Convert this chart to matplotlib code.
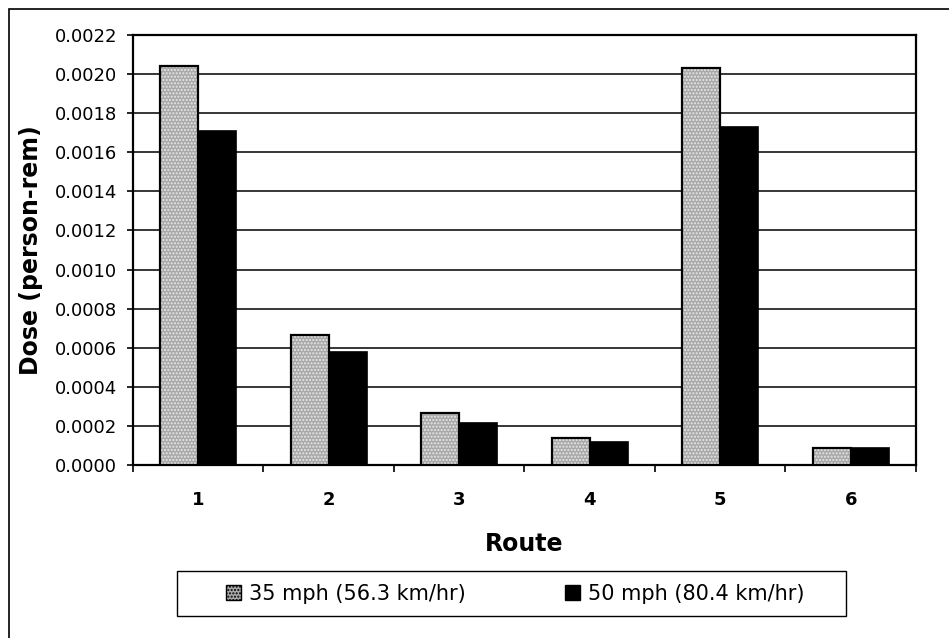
import numpy as np
import matplotlib.pyplot as plt
from matplotlib.patches import Rectangle

# values
routes = ['1', '2', '3', '4', '5', '6']
dose_35 = [0.00204, 0.000665, 0.000264, 0.000136, 0.002033, 0.000085]
dose_50 = [0.00171, 0.000578, 0.000213, 0.000116, 0.00173, 0.000085]
labels = ['35 mph (56.3 km/hr)', '50 mph (80.4 km/hr)']

plt.rcParams['font.family'] = ['DejaVu Sans']

fig = plt.figure(figsize=(9.49, 6.38), dpi=100)
ax = fig.add_axes([0.1401, 0.2712, 0.8251, 0.6739])

x = np.arange(len(routes))
w = 0.29

# stippled grey bars: texture layer, then outline layer
ax.bar(x - w/2, dose_35, w, color='#a9a9a9', edgecolor='#e8e8e8', hatch='.....',
       linewidth=0, zorder=3)
ax.bar(x - w/2, dose_35, w, fill=False, edgecolor='black', linewidth=1.6, zorder=4)
ax.bar(x + w/2, dose_50, w, color='black', edgecolor='black', linewidth=1.2, zorder=3)

ax.set_xlim(-0.5, len(routes) - 0.5)
ax.set_ylim(0, 0.0022)
ticks = np.arange(0, 0.00221, 0.0002)
ax.set_yticks(ticks)
ax.set_yticklabels(['%.4f' % v for v in ticks], fontsize=13)
ax.yaxis.grid(True, color='black', linewidth=1.1, zorder=0)
ax.set_axisbelow(True)

ax.set_xticks(x)
ax.set_xticklabels(routes, fontsize=13, fontweight='bold')
ax.set_xticks(np.arange(-0.5, len(routes)), minor=True)
ax.tick_params(axis='x', which='major', length=0, pad=19)
ax.tick_params(axis='x', which='minor', length=5, width=1.2, direction='out')
ax.tick_params(axis='y', length=4.5, width=1.2, direction='out', pad=7)

for s in ax.spines.values():
    s.set_linewidth(1.6)
    s.set_color('black')

ax.set_xlabel('Route', fontsize=17, fontweight='bold', labelpad=16)
ax.set_ylabel('Dose (person-rem)', fontsize=17, fontweight='bold', labelpad=8)

h1 = Rectangle((0, 0), 1, 1, facecolor='#a9a9a9', edgecolor='black', hatch='.....', linewidth=1)
h2 = Rectangle((0, 0), 1, 1, facecolor='black', edgecolor='black')
leg = fig.legend([h1, h2], labels, loc='center', bbox_to_anchor=(0.5432, 0.0697), ncol=2,
                 fontsize=15, frameon=False,
                 handlelength=0.7, handleheight=0.7, handletextpad=0.4,
                 columnspacing=4.76, borderpad=0.55, borderaxespad=0)

# legend box (Excel spreads the entries across a wider box)
fig.patches.append(Rectangle((177/949, 1 - 616/638), (846 - 177)/949, 45/638,
                             transform=fig.transFigure, fill=False,
                             edgecolor='black', linewidth=1.0))

# outer chart frame
fig.patches.append(Rectangle((9/949, -0.01), 1.0, 1 - 9/638 + 0.01, transform=fig.transFigure,
                             fill=False, edgecolor='black', linewidth=1.2))

fig.savefig('out.png', dpi=100)
